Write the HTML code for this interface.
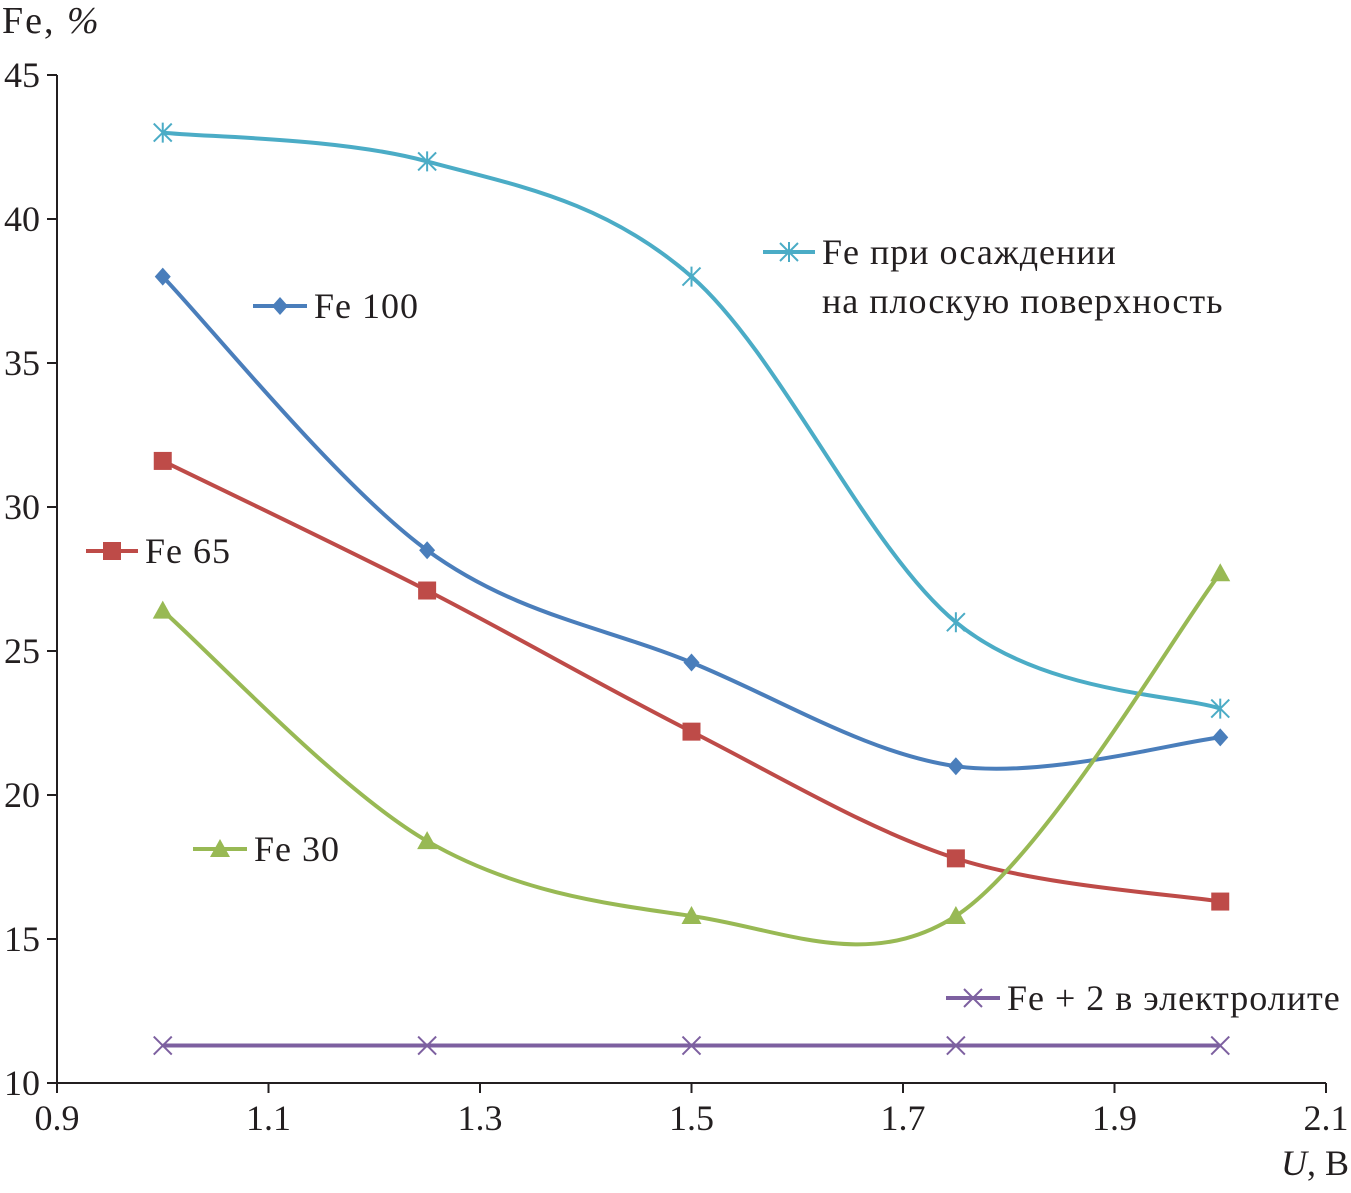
<!DOCTYPE html>
<html><head><meta charset="utf-8"><style>
html,body{margin:0;padding:0;background:#fff;}
svg text{font-family:"Liberation Serif",serif;fill:#231f20;}
</style></head><body>
<svg id="chart" width="1351" height="1188" viewBox="0 0 1351 1188">
<g id="axes"></g>
<g id="series"></g>
<g id="legend"></g>
<text x="2" y="33" font-size="38" letter-spacing="2">Fe, <tspan font-style="italic">%</tspan></text>
<text x="1349" y="1175" font-size="36" text-anchor="end"><tspan font-style="italic">U</tspan>, В</text>
</svg>
<script>
const xCats = [1.0, 1.25, 1.5, 1.75, 2.0];
const cyanVals = [43, 42, 38, 26, 23];
const blueVals = [38, 28.5, 24.6, 21, 22];
const redVals = [31.6, 27.1, 22.2, 17.8, 16.3];
const greenVals = [26.4, 18.4, 15.8, 15.8, 27.7];
const purpleVals = [11.3, 11.3, 11.3, 11.3, 11.3];
const xTicks = [0.9, 1.1, 1.3, 1.5, 1.7, 1.9, 2.1];
const yTicks = [10, 15, 20, 25, 30, 35, 40, 45];

const NS = "http://www.w3.org/2000/svg";
const X = v => 57 + (v - 0.9) / 1.2 * 1269;
const Y = v => 1083 - (v - 10) / 35 * 1008;
function mk(tag, attrs, parent) { const e = document.createElementNS(NS, tag); for (const k in attrs) e.setAttribute(k, attrs[k]); parent.appendChild(e); return e; }
const axes = document.getElementById('axes'), ser = document.getElementById('series'), leg = document.getElementById('legend');

let e = mk('line', {x1: 57, y1: 75, x2: 57, y2: 1083, stroke: '#231f20', 'stroke-width': 2}, axes);


e = mk('line', {x1: 57, y1: 1083, x2: 1326, y2: 1083, stroke: '#231f20', 'stroke-width': 2}, axes);


yTicks.forEach(t => {
  mk('line', {x1: 57, y1: Y(t), x2: 57 - 10, y2: Y(t), stroke: '#231f20', 'stroke-width': 2}, axes);
  const tx = mk('text', {x: 40, y: Y(t) + 12, 'font-size': 36, 'text-anchor': 'end'}, axes);
  tx.textContent = t;
  
  
});
xTicks.forEach(t => {
  mk('line', {x1: X(t), y1: 1083, x2: X(t), y2: 1093, stroke: '#231f20', 'stroke-width': 2}, axes);
  const tx = mk('text', {x: X(t), y: 1130, 'font-size': 36, 'text-anchor': 'middle'}, axes);
  tx.textContent = t.toFixed(1);
  
  
});

function smoothPath(pts) {
  let d = `M${pts[0][0]},${pts[0][1]}`;
  for (let i = 0; i < pts.length - 1; i++) {
    const p0 = pts[Math.max(i - 1, 0)], p1 = pts[i], p2 = pts[i + 1], p3 = pts[Math.min(i + 2, pts.length - 1)];
    const c1 = [p1[0] + (p2[0] - p0[0]) / 6, p1[1] + (p2[1] - p0[1]) / 6];
    const c2 = [p2[0] - (p3[0] - p1[0]) / 6, p2[1] - (p3[1] - p1[1]) / 6];
    d += ` C${c1[0]},${c1[1]} ${c2[0]},${c2[1]} ${p2[0]},${p2[1]}`;
  }
  return d;
}
function marker(type, x, y, color, g) {
  if (type === 'diamond') mk('path', {d: `M${x},${y-9} L${x+8},${y} L${x},${y+9} L${x-8},${y} Z`, fill: color}, g);
  else if (type === 'square') mk('rect', {x: x - 9, y: y - 9, width: 18, height: 18, fill: color}, g);
  else if (type === 'triangle') mk('path', {d: `M${x},${y-10} L${x+10},${y+8} L${x-10},${y+8} Z`, fill: color}, g);
  else if (type === 'star') mk('path', {d: `M${x-9},${y-9} L${x+9},${y+9} M${x+9},${y-9} L${x-9},${y+9} M${x},${y-10} L${x},${y+10}`, stroke: color, 'stroke-width': 2, fill: 'none'}, g);
  else if (type === 'x') mk('path', {d: `M${x-9},${y-9} L${x+9},${y+9} M${x+9},${y-9} L${x-9},${y+9}`, stroke: color, 'stroke-width': 2, fill: 'none'}, g);
}
const defs = [
  ['series-fe-flat', cyanVals, '#4bacc6', 'star'],
  ['series-fe-100', blueVals, '#4a7ebb', 'diamond'],
  ['series-fe-65', redVals, '#be4b48', 'square'],
  ['series-fe-30', greenVals, '#98b954', 'triangle'],
  ['series-fe2-electrolyte', purpleVals, '#7d60a0', 'x'],
];
defs.forEach(([name, vals, color, m]) => {
  const g = mk('g', {}, ser);
  
  
  const pts = vals.map((v, i) => [X(xCats[i]), Y(v)]);
  mk('path', {d: smoothPath(pts), fill: 'none', stroke: color, 'stroke-width': 4}, g);
  pts.forEach(p => marker(m, p[0], p[1], color, g));
});

const legs = [
  [763, 815, 252, '#4bacc6', 'star', ['Fe при осаждении', 'на плоскую поверхность'], 'legend-fe-flat'],
  [253, 307, 306, '#4a7ebb', 'diamond', ['Fe 100'], 'legend-fe-100'],
  [86, 138, 551, '#be4b48', 'square', ['Fe 65'], 'legend-fe-65'],
  [193, 247, 849, '#98b954', 'triangle', ['Fe 30'], 'legend-fe-30'],
  [946, 1000, 998, '#7d60a0', 'x', ['Fe + 2 в электролите'], 'legend-fe2-electrolyte'],
];
legs.forEach(([x1, x2, y, color, m, lines, name]) => {
  const g = mk('g', {}, leg);
  
  
  mk('line', {x1, y1: y, x2, y2: y, stroke: color, 'stroke-width': 4}, g);
  marker(m, (x1 + x2) / 2, y, color, g);
  lines.forEach((t, i) => {
    const tx = mk('text', {x: x2 + 7, y: y + 12 + i * 49, 'font-size': 36, 'letter-spacing': 1}, g);
    tx.textContent = t;
  });
});
</script>
</body></html>
